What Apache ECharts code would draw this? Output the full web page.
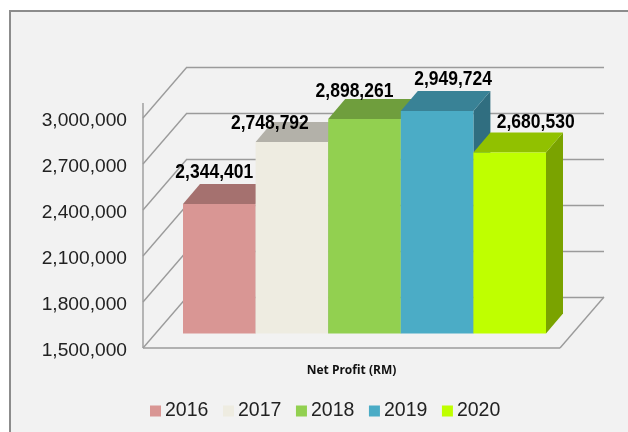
<!DOCTYPE html>
<html>
<head>
<meta charset="utf-8">
<style>
  html, body { margin: 0; padding: 0; background: #fff; }
  #main { width: 628px; height: 432px; filter: blur(0.4px); }
</style>
<script src="https://cdn.jsdelivr.net/npm/echarts@6/dist/echarts.min.js"></script>
</head>
<body>
<div id="main"></div>
<script>
var years = ['2016', '2017', '2018', '2019', '2020'];
var profit = [2344401, 2748792, 2898261, 2949724, 2680530];
var categories = ['Net Profit (RM)'];
var yTicks = [1500000, 1800000, 2100000, 2400000, 2700000, 3000000];

// front, top, side face colours per year
var faceColors = [
    ['#d99694', '#a5716f', '#8f6160'],
    ['#eeece1', '#b3b1a9', '#9c9a93'],
    ['#92d050', '#6f9e3d', '#5f8834'],
    ['#4bacc6', '#398296', '#306e80'],
    ['#bfff00', '#91c100', '#7aa300']
];
// hand placed data labels, relative to the bar's front top centre
var labelShift = [[-5, -31], [-22, -18], [-10, -27], [16, -32], [26, -30]];

var WALL_DX = 44, WALL_DY = 51;     // depth of the whole box
var BAR_IN_DX = 13, BAR_IN_DY = 14.6; // bar front inset from the front plane
var BAR_DX = 17, BAR_DY = 20;       // bar depth
var BAR_W = 72.6;
var LINE = '#9b9b9b';

function line(x1, y1, x2, y2) {
    return {
        type: 'line',
        shape: {x1: x1, y1: y1, x2: x2, y2: y2},
        style: {stroke: LINE, lineWidth: 1.4}
    };
}

// side wall diagonals, left axis line and the floor outline
function renderWall(params, api) {
    var p = api.coord([0, api.value(0)]);
    var box = params.coordSys;
    var left = box.x, right = box.x + box.width, y = p[1];
    var kids = [line(left, y, left + WALL_DX, y - WALL_DY)];
    if (params.dataIndex === 0) {
        kids.push(line(left, y, right, y));
        kids.push(line(right, y, right + WALL_DX, y - WALL_DY));
        kids.push(line(left, y, left, box.y - 15));
    }
    return {type: 'group', children: kids};
}

function poly(points, color) {
    return {type: 'polygon', shape: {points: points}, style: {fill: color}};
}

function makeBar(i) {
    return {
        name: years[i],
        type: 'custom',
        z: 3 + i,
        clip: false,
        itemStyle: {color: faceColors[i][0]},
        data: [[0, profit[i]]],
        renderItem: function (params, api) {
            var top = api.coord([api.value(0), api.value(1)]);
            var base = api.coord([api.value(0), yTicks[0]]);
            var x0 = top[0] + BAR_IN_DX + (i - 2.5) * BAR_W;
            var x1 = x0 + BAR_W;
            var y0 = top[1] - BAR_IN_DY;
            var y1 = base[1] - BAR_IN_DY;
            var c = faceColors[i];
            return {
                type: 'group',
                children: [
                    poly([[x1, y0], [x1 + BAR_DX, y0 - BAR_DY], [x1 + BAR_DX, y1 - BAR_DY], [x1, y1]], c[2]),
                    poly([[x0, y0], [x0 + BAR_DX, y0 - BAR_DY], [x1 + BAR_DX, y0 - BAR_DY], [x1, y0]], c[1]),
                    poly([[x0, y0], [x1, y0], [x1, y1], [x0, y1]], c[0]),
                    {
                        type: 'text',
                        z2: 50,
                        x: (x0 + x1) / 2 + labelShift[i][0],
                        y: y0 + labelShift[i][1],
                        scaleY: 1.12,
                        style: {
                            text: api.value(1).toLocaleString('en-US'),
                            fill: '#000',
                            align: 'center',
                            verticalAlign: 'middle',
                            font: 'bold 17.5px "Liberation Sans", Arial, sans-serif'
                        }
                    }
                ]
            };
        }
    };
}

var chart = echarts.init(document.getElementById('main'));

var series = [{
    name: 'wall',
    type: 'custom',
    z: 1,
    clip: false,
    silent: true,
    data: yTicks.map(function (t) { return [t]; }),
    encode: {y: 0},
    renderItem: renderWall
}];
for (var i = 0; i < years.length; i++) {
    series.push(makeBar(i));
}

var option = {
    animation: false,
    backgroundColor: '#fff',
    graphic: [{
        type: 'rect',
        z: -10,
        shape: {x: 10, y: 11, width: 700, height: 500},
        style: {fill: '#f2f2f2', stroke: '#8c8c8c', lineWidth: 2}
    }],
    legend: {
        data: years.map(function (y) { return {name: y, icon: 'rect'}; }),
        left: 145,
        top: 396,
        itemWidth: 11,
        itemHeight: 11,
        itemGap: 14.6,
        selectedMode: false,
        textStyle: {fontFamily: '"Liberation Sans", Arial, sans-serif', fontSize: 19.5, color: '#222', padding: [0, 0, 0, -1]}
    },
    grid: [
        {left: 143, top: 118, width: 417, height: 230},
        {left: 143 + WALL_DX, top: 118 - WALL_DY, width: 417, height: 230}
    ],
    xAxis: [{
        type: 'category',
        gridIndex: 0,
        data: categories,
        axisLine: {show: false},
        axisTick: {show: false},
        axisLabel: {
            margin: 17,
            color: '#111',
            fontFamily: '"Open Sans", sans-serif',
            fontWeight: 'bold',
            fontSize: 12
        }
    }, {
        type: 'category',
        gridIndex: 1,
        show: false,
        data: categories
    }],
    yAxis: [{
        type: 'value',
        gridIndex: 0,
        min: yTicks[0],
        max: yTicks[yTicks.length - 1],
        interval: 300000,
        axisLine: {show: false},
        axisTick: {show: false},
        splitLine: {show: false},
        axisLabel: {
            margin: 16,
            color: '#222',
            fontFamily: '"Liberation Sans", Arial, sans-serif',
            fontSize: 19.2,
            verticalAlign: 'top',
            lineHeight: 5,
            formatter: function (v) { return v.toLocaleString('en-US'); }
        }
    }, {
        type: 'value',
        gridIndex: 1,
        min: yTicks[0],
        max: yTicks[yTicks.length - 1],
        interval: 300000,
        axisLine: {show: false},
        axisTick: {show: false},
        axisLabel: {show: false},
        splitLine: {show: true, lineStyle: {color: LINE, width: 1.4}}
    }],
    series: series
};
chart.setOption(option);
</script>
</body>
</html>
